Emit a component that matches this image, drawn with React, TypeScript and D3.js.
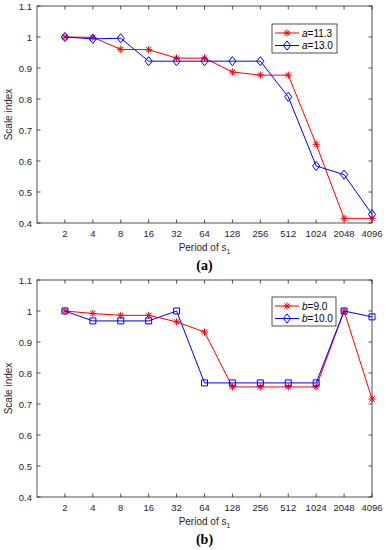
import React, { useEffect, useRef } from 'react'
import * as d3 from 'd3'

// x categories (period of s1)
const periods = [2, 4, 8, 16, 32, 64, 128, 256, 512, 1024, 2048, 4096]
const yTicks = [0.4, 0.5, 0.6, 0.7, 0.8, 0.9, 1.0, 1.1]

// panel (a)
const seriesA1 = [1.0, 0.999, 0.96, 0.959, 0.932, 0.932, 0.887, 0.877, 0.877, 0.654, 0.415, 0.415]
const seriesA2 = [1.0, 0.994, 0.996, 0.922, 0.922, 0.922, 0.922, 0.922, 0.807, 0.584, 0.556, 0.428]
// panel (b)
const seriesB1 = [1.0, 0.992, 0.986, 0.986, 0.965, 0.932, 0.755, 0.755, 0.755, 0.755, 1.0, 0.716]
const seriesB2 = [1.0, 0.968, 0.968, 0.968, 1.0, 0.768, 0.768, 0.768, 0.768, 0.768, 1.0, 0.981]

const W = 386
const H = 550
const AXIS = '#262626'
const FONT = '"Liberation Sans", Arial, sans-serif'

type Marker = 'star' | 'diamond' | 'square'

interface SeriesDef {
  name: string
  param: string
  values: number[]
  color: string
  marker: Marker
  legendMarker: Marker
}

const markerPath = (m: Marker, x: number, y: number) => {
  if (m === 'star') {
    const r = 3.6
    const d = r * 0.72
    return `M${x - r},${y}L${x + r},${y}M${x},${y - r}L${x},${y + r}` +
      `M${x - d},${y - d}L${x + d},${y + d}M${x - d},${y + d}L${x + d},${y - d}`
  }
  if (m === 'diamond') {
    const rx = 3.6, ry = 4.6
    return `M${x},${y - ry}L${x + rx},${y}L${x},${y + ry}L${x - rx},${y}Z`
  }
  const s = 3
  return `M${x - s},${y - s}L${x + s},${y - s}L${x + s},${y + s}L${x - s},${y + s}Z`
}

const drawPanel = (
  svg: d3.Selection<SVGSVGElement, unknown, null, undefined>,
  top: number,
  bottom: number,
  series: SeriesDef[],
  legend: { x: number, y: number, w: number, h: number },
  tag: string
) => {
  const left = 37
  const right = 372

  const x = d3.scaleLog().base(2).domain([1, 4096]).range([left, right])
  const y = d3.scaleLinear().domain([0.4, 1.1]).range([bottom, top])

  const g = svg.append('g')

  // box
  g.append('rect')
    .attr('x', left).attr('y', top)
    .attr('width', right - left).attr('height', bottom - top)
    .attr('fill', 'white').attr('stroke', AXIS).attr('stroke-width', 0.8)

  // x ticks (bottom + top, inward)
  const tl = 3.5
  periods.forEach(p => {
    const xx = x(p)
    g.append('line').attr('x1', xx).attr('x2', xx).attr('y1', bottom).attr('y2', bottom - tl)
      .attr('stroke', AXIS).attr('stroke-width', 0.8)
    g.append('line').attr('x1', xx).attr('x2', xx).attr('y1', top).attr('y2', top + tl)
      .attr('stroke', AXIS).attr('stroke-width', 0.8)
    g.append('text').attr('x', xx).attr('y', bottom + 14)
      .attr('text-anchor', 'middle').attr('font-family', FONT).attr('font-size', 9.5)
      .attr('fill', AXIS).text(String(p))
  })

  // y ticks (left + right, inward)
  yTicks.forEach(v => {
    const yy = y(v)
    g.append('line').attr('x1', left).attr('x2', left + tl).attr('y1', yy).attr('y2', yy)
      .attr('stroke', AXIS).attr('stroke-width', 0.8)
    g.append('line').attr('x1', right).attr('x2', right - tl).attr('y1', yy).attr('y2', yy)
      .attr('stroke', AXIS).attr('stroke-width', 0.8)
    g.append('text').attr('x', left - 5).attr('y', yy + 3.5)
      .attr('text-anchor', 'end').attr('font-family', FONT).attr('font-size', 9.5)
      .attr('fill', AXIS).text(v === 1 ? '1' : d3.format('.1f')(v))
  })

  // axis labels
  const xl = g.append('text')
    .attr('x', (left + right) / 2).attr('y', bottom + 28)
    .attr('text-anchor', 'middle').attr('font-family', FONT).attr('font-size', 10)
    .attr('fill', AXIS)
  xl.append('tspan').text('Period of s')
  xl.append('tspan').attr('font-size', 7).attr('dy', 3).text('1')

  g.append('text')
    .attr('transform', `translate(12,${(top + bottom) / 2}) rotate(-90)`)
    .attr('text-anchor', 'middle').attr('font-family', FONT).attr('font-size', 10)
    .attr('fill', AXIS).text('Scale index')

  // series lines + markers
  series.forEach(s => {
    const line = d3.line<number>()
      .x((_, i) => x(periods[i]))
      .y(d => y(d))
    g.append('path').attr('d', line(s.values) || '')
      .attr('fill', 'none').attr('stroke', s.color).attr('stroke-width', 1)
    s.values.forEach((v, i) => {
      g.append('path').attr('d', markerPath(s.marker, x(periods[i]), y(v)))
        .attr('fill', 'none').attr('stroke', s.color).attr('stroke-width', 1)
    })
  })

  // legend
  const lg = g.append('g')
  lg.append('rect').attr('x', legend.x).attr('y', legend.y)
    .attr('width', legend.w).attr('height', legend.h)
    .attr('fill', 'white').attr('stroke', AXIS).attr('stroke-width', 0.8)
  series.forEach((s, i) => {
    const ly = legend.y + 9 + i * 12.5
    lg.append('line').attr('x1', legend.x + 3).attr('x2', legend.x + 27)
      .attr('y1', ly).attr('y2', ly).attr('stroke', s.color).attr('stroke-width', 1)
    lg.append('path').attr('d', markerPath(s.legendMarker, legend.x + 15, ly))
      .attr('fill', 'none').attr('stroke', s.color).attr('stroke-width', 1)
    const t = lg.append('text').attr('x', legend.x + 30).attr('y', ly + 3.5)
      .attr('font-family', FONT).attr('font-size', 10).attr('fill', 'black')
    t.append('tspan').attr('font-style', 'italic').text(s.param)
    t.append('tspan').text('=' + s.name)
  })

  // panel tag
  svg.append('text')
    .attr('x', (left + right) / 2).attr('y', bottom + 47)
    .attr('text-anchor', 'middle').attr('font-family', '"Liberation Serif", "Times New Roman", serif')
    .attr('font-size', 14).attr('font-weight', 'bold').attr('fill', 'black')
    .text(`(${tag})`)
}

const App: React.FC = () => {
  const svgRef = useRef<SVGSVGElement>(null)

  useEffect(() => {
    if (!svgRef.current) return
    document.body.style.margin = '0'
    const svg = d3.select(svgRef.current)
    svg.selectAll('*').remove()

    drawPanel(svg, 6, 223, [
      { name: '11.3', param: 'a', values: seriesA1, color: '#ff0000', marker: 'star', legendMarker: 'star' },
      { name: '13.0', param: 'a', values: seriesA2, color: '#0000ff', marker: 'diamond', legendMarker: 'diamond' }
    ], { x: 272, y: 24, w: 65, h: 29 }, 'a')

    drawPanel(svg, 280, 497, [
      { name: '9.0', param: 'b', values: seriesB1, color: '#ff0000', marker: 'star', legendMarker: 'star' },
      { name: '10.0', param: 'b', values: seriesB2, color: '#0000ff', marker: 'square', legendMarker: 'diamond' }
    ], { x: 272, y: 297, w: 64, h: 29 }, 'b')
  }, [])

  return <svg ref={svgRef} width={W} height={H} style={{ display: 'block', background: 'white' }} />
}

export default App
